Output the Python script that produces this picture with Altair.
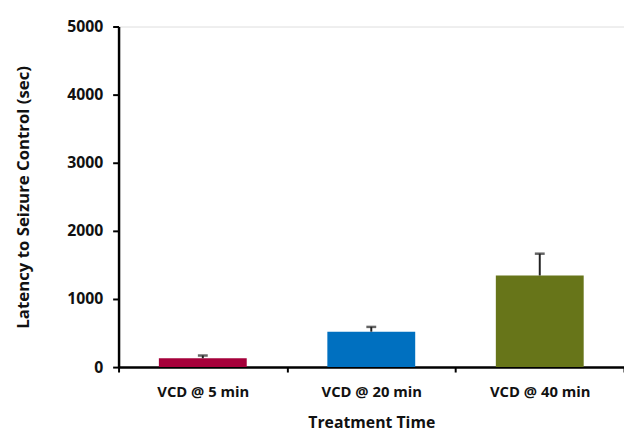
import altair as alt
import pandas as pd

categories = ["VCD @ 5 min", "VCD @ 20 min", "VCD @ 40 min"]
means = [130, 520, 1345]
errors = [40, 70, 320]
colors = ["#A5003A", "#0070C0", "#677519"]

df = pd.DataFrame({
    "cat": categories,
    "mean": means,
    "top": [m + e for m, e in zip(means, errors)],
    "color": colors,
})

FONT = "Open Sans"

x = alt.X("cat:N", sort=categories, title="Treatment Time",
          scale=alt.Scale(paddingInner=0, paddingOuter=0),
          axis=alt.Axis(labelAngle=0, labelFont=FONT, labelFontWeight="bold",
                        labelFontSize=15, labelColor="#111", labelPadding=13,
                        tickBand="extent", tickSize=5, tickWidth=2, tickColor="#000",
                        domainColor="#000", domainWidth=2.5,
                        titleFont=FONT, titleFontWeight="bold", titleFontSize=16,
                        titleColor="#111", titlePadding=15))

base = alt.Chart(df)

bars = base.mark_bar(size=89).encode(
    x=x,
    y=alt.Y("mean:Q", title="Latency to Seizure Control (sec)",
            scale=alt.Scale(domain=[0, 5000]),
            axis=alt.Axis(values=[0, 1000, 2000, 3000, 4000, 5000], grid=False,
                          format="d",
                          labelFont=FONT, labelFontWeight="bold", labelFontSize=16,
                          labelColor="#111", labelPadding=10,
                          tickSize=6, tickWidth=2, tickColor="#000",
                          domainColor="#000", domainWidth=2.5,
                          titleFont=FONT, titleFontWeight="bold", titleFontSize=17,
                          titleColor="#111", titlePadding=35)),
    color=alt.Color("color:N", scale=None),
)

rules = base.mark_rule(color="#222", strokeWidth=2).encode(
    x=alt.X("cat:N", sort=categories),
    y="mean:Q",
    y2="top:Q",
)

caps = base.mark_tick(color="#222", size=10, thickness=2.5).encode(
    x=alt.X("cat:N", sort=categories),
    y="top:Q",
)

chart = alt.layer(bars, rules, caps).properties(
    width=512, height=345,
    autosize=alt.AutoSizeParams(type="none"),
    padding={"left": 112, "top": 16, "right": 0, "bottom": 64},
).configure_view(stroke=None).configure_axis(grid=False).configure(background="white")

chart.save("out.html", embed_options={"renderer": "svg", "actions": False})
